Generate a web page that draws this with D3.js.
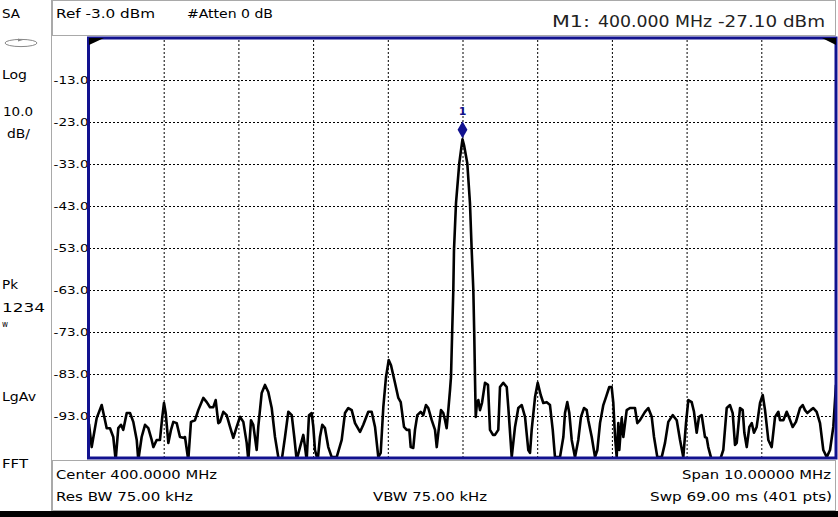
<!DOCTYPE html>
<html><head><meta charset="utf-8">
<script src="https://cdn.jsdelivr.net/npm/d3@7/dist/d3.min.js"></script>
<style>
html,body{margin:0;padding:0;background:#fff;}
svg{display:block;font-family:"DejaVu Sans",Verdana,sans-serif;}
</style></head><body>
<svg id="c" width="838" height="517"></svg>
<script>
// ---------- data ----------
const startMHz = 395, stopMHz = 405;
const refLevel = -3.0, bottomLevel = -103.0;
const yTickValues = [-13, -23, -33, -43, -53, -63, -73, -83, -93];
const xGridMHz = [396, 397, 398, 399, 400, 401, 402, 403, 404];
const markerPoint = {freq: 400.000, amp: -27.10, label: "1"};
// trace readings [frequency MHz, amplitude dBm]
const tracePoints = [
[395.000,-94.9],[395.036,-100.4],[395.103,-93.5],[395.170,-90.4],[395.237,-95.9],[395.281,-95.9],[395.325,-98.0],[395.357,-103.5],
[395.392,-95.9],[395.428,-95.1],[395.459,-96.3],[395.505,-92.3],[395.549,-92.3],[395.593,-94.4],[395.639,-98.7],[395.660,-103.5],
[395.705,-98.0],[395.750,-95.1],[395.794,-95.9],[395.839,-98.7],[395.861,-100.4],[395.906,-98.7],[395.950,-98.7],[395.981,-93.2],
[396.004,-89.9],[396.027,-92.3],[396.062,-99.4],[396.098,-96.3],[396.129,-94.4],[396.174,-94.7],[396.218,-98.0],[396.262,-98.2],
[396.285,-98.0],[396.329,-103.5],[396.365,-94.4],[396.419,-94.0],[396.463,-91.6],[396.530,-88.7],[396.576,-89.7],[396.620,-90.9],
[396.664,-90.9],[396.696,-89.2],[396.731,-94.7],[396.754,-94.4],[396.798,-92.0],[396.843,-92.8],[396.888,-95.6],[396.932,-98.2],
[396.977,-95.6],[397.021,-93.2],[397.066,-94.4],[397.111,-99.4],[397.133,-103.5],[397.169,-94.0],[397.199,-95.1],[397.245,-101.1],
[397.266,-95.6],[397.312,-87.5],[397.356,-85.6],[397.400,-87.3],[397.446,-91.1],[397.490,-98.0],[397.534,-102.8],[397.580,-103.5],
[397.624,-98.0],[397.668,-92.0],[397.714,-92.8],[397.748,-98.0],[397.780,-103.5],[397.825,-100.4],[397.869,-97.5],[397.892,-100.4],
[397.914,-103.5],[397.945,-92.8],[397.981,-92.3],[398.003,-95.6],[398.025,-101.1],[398.062,-103.5],[398.092,-98.0],[398.123,-95.1],
[398.159,-95.9],[398.203,-100.4],[398.249,-102.8],[398.316,-102.8],[398.383,-98.7],[398.427,-92.3],[398.471,-91.1],[398.517,-91.6],
[398.561,-94.7],[398.628,-96.8],[398.672,-95.1],[398.739,-92.0],[398.784,-92.0],[398.829,-95.6],[398.873,-102.8],[398.905,-101.8],
[398.940,-90.9],[398.976,-83.7],[399.012,-79.7],[399.043,-80.9],[399.096,-85.1],[399.141,-88.7],[399.173,-89.7],[399.217,-95.6],
[399.253,-96.3],[399.288,-96.3],[399.307,-100.4],[399.341,-100.6],[399.364,-96.3],[399.395,-92.8],[399.440,-92.0],[399.475,-92.8],
[399.511,-90.4],[399.542,-91.1],[399.588,-94.0],[399.632,-96.3],[399.655,-100.4],[399.676,-97.0],[399.712,-91.6],[399.743,-92.3],
[399.766,-94.0],[399.788,-95.9],[399.810,-91.6],[399.833,-86.8],[399.846,-83.7],[399.860,-74.2],[399.877,-63.0],[399.886,-53.5],
[399.913,-42.3],[399.957,-32.8],[399.980,-29.7],[400.000,-27.1],[400.020,-28.5],[400.033,-29.7],[400.064,-32.8],[400.100,-42.3],
[400.123,-53.5],[400.145,-63.0],[400.158,-74.2],[400.167,-83.7],[400.177,-93.2],[400.194,-89.9],[400.212,-89.2],[400.234,-91.6],
[400.261,-89.9],[400.301,-85.1],[400.341,-85.6],[400.368,-96.3],[400.408,-97.5],[400.435,-97.5],[400.479,-96.3],[400.502,-86.1],
[400.546,-85.1],[400.592,-86.1],[400.613,-90.9],[400.659,-102.8],[400.703,-95.6],[400.747,-91.1],[400.793,-90.4],[400.837,-93.2],
[400.881,-101.1],[400.904,-101.8],[400.926,-96.3],[400.971,-88.5],[401.007,-85.1],[401.047,-88.0],[401.082,-89.9],[401.127,-89.7],
[401.171,-90.4],[401.208,-96.3],[401.238,-102.8],[401.305,-102.8],[401.350,-98.0],[401.372,-92.3],[401.403,-89.7],[401.430,-92.3],
[401.462,-98.7],[401.506,-102.8],[401.550,-98.7],[401.586,-93.2],[401.627,-91.1],[401.663,-91.6],[401.684,-94.0],[401.730,-98.0],
[401.774,-102.8],[401.805,-101.1],[401.841,-94.7],[401.885,-90.4],[401.921,-88.5],[401.965,-86.1],[401.997,-86.1],[402.019,-89.9],
[402.042,-98.0],[402.064,-102.8],[402.086,-94.7],[402.099,-101.1],[402.131,-93.5],[402.153,-98.0],[402.198,-91.6],[402.242,-91.1],
[402.309,-91.1],[402.340,-94.7],[402.376,-94.0],[402.443,-92.0],[402.487,-91.1],[402.533,-93.2],[402.564,-98.0],[402.608,-102.8],
[402.667,-102.8],[402.711,-99.4],[402.755,-94.4],[402.814,-92.8],[402.868,-94.0],[402.912,-98.7],[402.956,-102.8],[402.992,-94.7],
[403.023,-89.2],[403.068,-89.7],[403.099,-92.0],[403.135,-97.0],[403.166,-93.2],[403.202,-92.8],[403.246,-98.0],[403.269,-98.2],
[403.290,-100.4],[403.336,-103.5],[403.447,-103.5],[403.491,-101.1],[403.537,-91.1],[403.581,-90.4],[403.617,-92.3],[403.648,-99.9],
[403.671,-99.4],[403.715,-91.1],[403.751,-91.6],[403.773,-97.0],[403.805,-100.4],[403.840,-95.6],[403.872,-94.7],[403.902,-97.0],
[403.938,-95.6],[403.983,-89.9],[404.019,-88.0],[404.050,-91.6],[404.094,-98.7],[404.139,-100.4],[404.184,-93.2],[404.228,-92.0],
[404.251,-94.0],[404.295,-94.0],[404.340,-92.0],[404.375,-93.5],[404.420,-95.6],[404.464,-94.4],[404.518,-91.1],[404.554,-90.4],
[404.585,-91.6],[404.616,-92.3],[404.661,-91.6],[404.696,-91.1],[404.741,-92.0],[404.786,-94.7],[404.830,-101.1],[404.876,-102.8],
[404.920,-101.1],[404.964,-95.6],[405.000,-85.6]
];
// annotation texts
const leftPanelTexts = ["SA", "Log", "10.0", "dB/", "Pk", "1234", "w", "LgAv", "FFT"];
const headerTexts = ["Ref -3.0 dBm", "#Atten 0 dB"];
const markerReadout = ["M1:", "400.000 MHz", "-27.10 dBm"];
const footerTexts = ["Center 400.0000 MHz", "Res BW 75.00 kHz", "VBW 75.00 kHz", "Span 10.00000 MHz", "Swp 69.00 ms (401 pts)"];

// ---------- layout ----------
const svg = d3.select("#c");
const P = {l: 89, r: 836, t: 38, b: 458};
const x = d3.scaleLinear().domain([startMHz, stopMHz]).range([P.l, P.r]);
const y = d3.scaleLinear().domain([bottomLevel, refLevel]).range([P.b, P.t]);
const BLUE = "#12128f", GRAY = "#a9a9a9";

svg.append("rect").attr("width", 838).attr("height", 517).attr("fill", "#fff");
// frames
svg.append("line").attr("x1", 51.5).attr("x2", 51.5).attr("y1", 0).attr("y2", 511).attr("stroke", GRAY);
svg.append("rect").attr("x", 52.5).attr("y", 0.5).attr("width", 783).attr("height", 35).attr("fill", "none").attr("stroke", GRAY);
svg.append("rect").attr("x", 52.5).attr("y", 460.5).attr("width", 783).attr("height", 50).attr("fill", "none").attr("stroke", GRAY);
svg.append("rect").attr("x", 0).attr("y", 511).attr("width", 838).attr("height", 6).attr("fill", "#000");

function txt(str, x0, x1, base, size, extra) {
  const t = svg.append("text").attr("x", x0).attr("y", base).attr("font-size", size)
    .attr("fill", "#000").text(str);
  if (x1) t.attr("textLength", x1 - x0).attr("lengthAdjust", "spacingAndGlyphs");
  if (extra) extra(t);
  return t;
}
// left panel
const lp = [[2,20,18,12.5],[2,27,79,12.5],[3,33,116,12.5],[7,30,138,12.5],[2,18,289,11.5],[2,45,312,12],[2,8,327,9],[2,36,401,12.5],[2,28,468,12.5]];
leftPanelTexts.forEach((s,i)=>txt(s, lp[i][0], lp[i][1], lp[i][2], lp[i][3]));
// ellipse icon
svg.append("ellipse").attr("cx", 21).attr("cy", 43).attr("rx", 16).attr("ry", 3.6).attr("fill","none").attr("stroke","#888").attr("stroke-width",1);
svg.append("path").attr("d","M18,38.5 L23,40 L18,41.5 Z").attr("fill","#888");

// header
txt(headerTexts[0], 56, 155, 18, 12.5);
txt(headerTexts[1], 187, 273, 18, 12.5);
const mr = [[552,590],[598,712],[718,825]];
markerReadout.forEach((s,i)=>txt(s, mr[i][0], mr[i][1], 27, 16, t=>t.attr("fill","#222")));

// footer
const ft = [[56,217,479],[56,193,501],[373,487,501],[682,831,479],[650,832,501]];
footerTexts.forEach((s,i)=>txt(s, ft[i][0], ft[i][1], ft[i][2], 12.5));

// grid
const gridG = svg.append("g").attr("stroke-dasharray","2,2");
gridG.append("g").attr("transform", `translate(${P.l},0)`)
  .call(d3.axisLeft(y).tickValues(yTickValues).tickSize(-(P.r-P.l)).tickFormat(""))
  .call(g=>{g.select(".domain").remove(); g.selectAll("line").attr("stroke","#000").attr("stroke-width",1);});
gridG.append("g").attr("transform", `translate(0,${P.b})`)
  .call(d3.axisBottom(x).tickValues(xGridMHz).tickSize(-(P.b-P.t)).tickFormat(""))
  .call(g=>{g.select(".domain").remove(); g.selectAll("line").attr("stroke","#000").attr("stroke-width",1);});

// y tick labels
svg.append("g").attr("transform", `translate(${P.l},0)`)
  .call(d3.axisLeft(y).tickValues(yTickValues).tickSize(0).tickFormat(d=>d.toFixed(1)))
  .call(g=>{
    g.select(".domain").remove();
    g.selectAll("text").attr("x", -35.5).attr("dy", "0.34em").attr("text-anchor","start")
      .attr("font-family", '"DejaVu Sans",sans-serif').attr("font-size", 10).attr("fill","#000")
      .attr("textLength", 35).attr("lengthAdjust","spacingAndGlyphs");
  });

// trace
svg.append("clipPath").attr("id","pc").append("rect").attr("x",P.l).attr("y",P.t).attr("width",P.r-P.l).attr("height",P.b-P.t);
const line = d3.line().x(d=>x(d[0])).y(d=>y(d[1]));
svg.append("path").datum(tracePoints).attr("clip-path","url(#pc)")
  .attr("d", line).attr("fill","none").attr("stroke","#000").attr("stroke-width",2.6).attr("stroke-linejoin","round");

// plot border
svg.append("rect").attr("x",P.l-0.5).attr("y",P.t).attr("width",P.r-P.l+0.5).attr("height",P.b-P.t)
  .attr("fill","none").attr("stroke",BLUE).attr("stroke-width",3);
// corner flags
svg.append("path").attr("d",`M${P.l},${P.t} L${P.l+15},${P.t} L${P.l},${P.t+7} Z`).attr("fill","#000");
svg.append("path").attr("d",`M${P.r-14},${P.t} L${P.r},${P.t} L${P.r},${P.t+7} Z`).attr("fill","#000");

// marker
const mx = x(markerPoint.freq), my = y(markerPoint.amp);
svg.append("path").attr("d", d3.symbol(d3.symbolDiamond, 84)()).attr("transform", `translate(${mx},${my-9.5})`).attr("fill", BLUE);
svg.append("text").attr("x", mx).attr("y", my-24).attr("text-anchor","middle").attr("font-size",11).attr("font-weight","bold").attr("fill",BLUE).text(markerPoint.label);
</script>
</body></html>
